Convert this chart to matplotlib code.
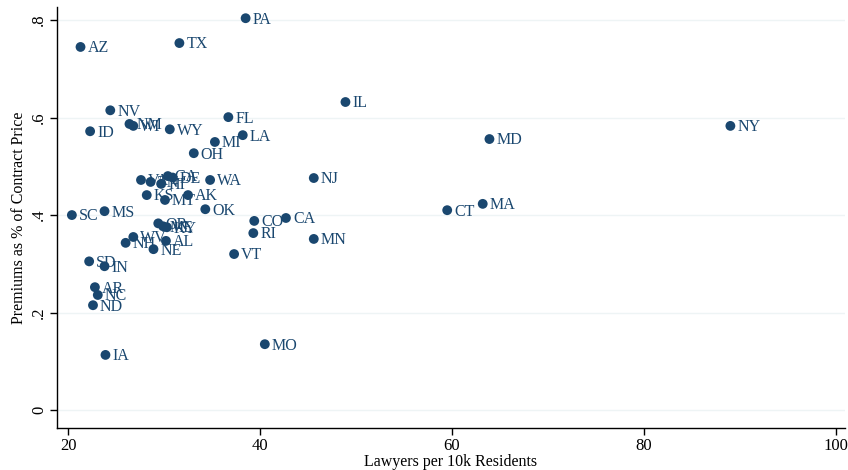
import matplotlib
matplotlib.use("Agg")
import matplotlib.pyplot as plt
from matplotlib.ticker import FixedLocator, FixedFormatter

plt.rcParams['font.family'] = ['Liberation Serif', 'DejaVu Serif']

# state, lawyers per 10k residents, premiums as share of contract price
states = ['PA', 'AZ', 'TX', 'NV', 'FL', 'IL', 'NY', 'MD', 'ID', 'NM',
          'WI', 'WY', 'LA', 'MI', 'OH', 'NJ', 'VA', 'TN', 'HI', 'GA',
          'DE', 'WA', 'KS', 'MT', 'AK', 'OK', 'CT', 'MA', 'SC', 'MS',
          'OR', 'ME', 'KY', 'CO', 'CA', 'RI', 'MN', 'WV', 'NH', 'AL',
          'NE', 'VT', 'SD', 'IN', 'AR', 'NC', 'ND', 'IA', 'MO']
lawyers = [38.5, 21.3, 31.6, 24.4, 36.7, 48.9, 89.0, 63.9, 22.3, 26.4,
           26.8, 30.6, 38.2, 35.3, 33.1, 45.6, 27.6, 28.6, 29.7, 30.4,
           30.9, 34.8, 28.2, 30.1, 32.5, 34.3, 59.5, 63.2, 20.4, 23.8,
           29.4, 29.9, 30.3, 39.4, 42.7, 39.3, 45.6, 26.8, 26.0, 30.2,
           28.9, 37.3, 22.2, 23.8, 22.8, 23.1, 22.6, 23.9, 40.5]
premiums = [0.804, 0.745, 0.753, 0.615, 0.601, 0.632, 0.583, 0.556, 0.572, 0.587,
            0.583, 0.576, 0.564, 0.550, 0.527, 0.476, 0.472, 0.468, 0.464, 0.480,
            0.477, 0.472, 0.441, 0.431, 0.441, 0.412, 0.410, 0.423, 0.400, 0.408,
            0.383, 0.377, 0.375, 0.388, 0.394, 0.363, 0.351, 0.355, 0.343, 0.347,
            0.330, 0.320, 0.305, 0.295, 0.252, 0.236, 0.215, 0.113, 0.135]

xticks = [20, 40, 60, 80, 100]
yticks = [0, 0.2, 0.4, 0.6, 0.8]
ytick_labels = ['0', '.2', '.4', '.6', '.8']

navy = '#1a476f'

fig = plt.figure(figsize=(8.48, 4.70), dpi=100)
ax = fig.add_axes([57 / 848, 1 - 428 / 470, (845 - 57) / 848, (428 - 7) / 470])

for yt in yticks:
    ax.axhline(yt, color='#eef4f5', lw=1.0, zorder=0)

ax.scatter(lawyers, premiums, s=50, color=navy, edgecolors='none', zorder=3)
for name, xv, yv in zip(states, lawyers, premiums):
    ax.annotate(name, (xv, yv), xytext=(5, -1), textcoords='offset points',
                ha='left', va='center', fontsize=11.5, color=navy, zorder=4)

ax.set_xlim(18.85, 100.94)
ax.set_ylim(-0.037, 0.827)
ax.xaxis.set_major_locator(FixedLocator(xticks))
ax.yaxis.set_major_locator(FixedLocator(yticks))
ax.yaxis.set_major_formatter(FixedFormatter(ytick_labels))
ax.tick_params(axis='both', labelsize=12, length=5, width=1, color='black', pad=2)
for lbl in ax.get_yticklabels():
    lbl.set_rotation(90)
    lbl.set_va('center')

for side in ['top', 'right']:
    ax.spines[side].set_visible(False)
for side in ['left', 'bottom']:
    ax.spines[side].set_linewidth(1.0)

ax.set_xlabel('Lawyers per 10k Residents', fontsize=11.5, labelpad=0)
ax.set_ylabel('Premiums as % of Contract Price', fontsize=11.5, labelpad=3)

fig.savefig('out.png', dpi=100)
